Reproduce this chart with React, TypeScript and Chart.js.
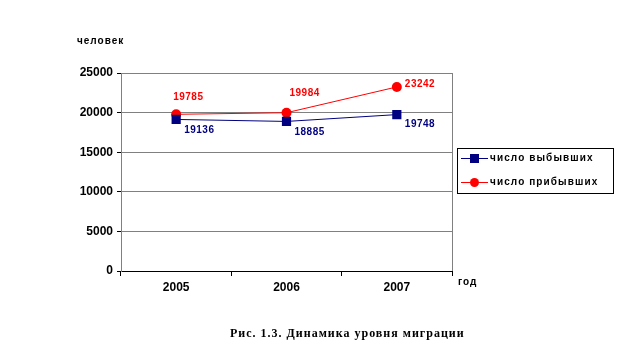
import React, { useEffect, useRef } from "react";
import { Chart, registerables } from "chart.js";

Chart.register(...registerables);

const years = ["2005", "2006", "2007"];
const departed = [19136, 18885, 19748];
const arrived = [19785, 19984, 23242];
const seriesNames = ["число выбывших", "число прибывших"];
const yTitle = "человек";
const xTitle = "год";
const caption = "Рис. 1.3. Динамика уровня миграции";

const BLUE = "#000080";
const RED = "#FF0000";
const FONT = '"Liberation Sans", Arial, sans-serif';

// label offsets relative to each point (style only)
const labelOffsets = [
  [
    [8, 11],
    [8, 11],
    [8, 10],
  ],
  [
    [-3, -17],
    [3, -19],
    [8, -3],
  ],
];

const extrasPlugin = {
  id: "extras",
  afterDatasetsDraw(chart: any) {
    const ctx = chart.ctx;
    ctx.save();
    ctx.font = `bold 10px ${FONT}`;
    (ctx as any).letterSpacing = "0.5px";
    ctx.textBaseline = "middle";
    ctx.textAlign = "left";
    chart.data.datasets.forEach((ds: any, di: number) => {
      const meta = chart.getDatasetMeta(di);
      ctx.fillStyle = ds.borderColor;
      meta.data.forEach((pt: any, i: number) => {
        const off = labelOffsets[di][i];
        ctx.fillText(String(ds.data[i]), pt.x + off[0], pt.y + off[1]);
      });
    });
    (ctx as any).letterSpacing = "0px";
    ctx.restore();
  },
  afterDraw(chart: any) {
    const ctx = chart.ctx;
    const area = chart.chartArea;
    ctx.save();
    // right border
    ctx.strokeStyle = "#808080";
    ctx.lineWidth = 1;
    ctx.beginPath();
    ctx.moveTo(Math.round(area.right) + 0.5, area.top);
    ctx.lineTo(Math.round(area.right) + 0.5, area.bottom);
    ctx.stroke();

    // axis titles
    ctx.fillStyle = "#000";
    ctx.font = `bold 10px ${FONT}`;
    (ctx as any).letterSpacing = "1px";
    ctx.textBaseline = "middle";
    ctx.textAlign = "left";
    ctx.fillText(yTitle, 77, 41);
    ctx.fillText(xTitle, 458, 282);

    // legend
    const lx = 457, ly = 148, lw = 156, lh = 45;
    ctx.fillStyle = "#fff";
    ctx.fillRect(lx, ly, lw, lh);
    ctx.strokeStyle = "#000";
    ctx.strokeRect(lx + 0.5, ly + 0.5, lw, lh);
    chart.data.datasets.forEach((ds: any, di: number) => {
      const y = ly + 10 + di * 24;
      ctx.strokeStyle = ds.borderColor;
      ctx.beginPath();
      ctx.moveTo(461, y + 0.5);
      ctx.lineTo(488, y + 0.5);
      ctx.stroke();
      ctx.fillStyle = ds.borderColor;
      if (ds.pointStyle === "rect") {
        ctx.fillRect(470, y - 4, 9, 9);
      } else {
        ctx.beginPath();
        ctx.arc(474.5, y + 0.5, 4.5, 0, Math.PI * 2);
        ctx.fill();
      }
      ctx.fillStyle = "#000";
      ctx.font = `bold 10px ${FONT}`;
      (ctx as any).letterSpacing = "1.1px";
      ctx.textAlign = "left";
      ctx.textBaseline = "middle";
      ctx.fillText(ds.label, 490, y);
    });

    // caption
    ctx.fillStyle = "#000";
    ctx.font = `bold 12px "Liberation Serif", "Times New Roman", serif`;
    (ctx as any).letterSpacing = "1px";
    ctx.textAlign = "left";
    ctx.textBaseline = "middle";
    ctx.fillText(caption, 230, 334);
    (ctx as any).letterSpacing = "0px";
    ctx.restore();
  },
};

export default function App() {
  const ref = useRef<HTMLCanvasElement>(null);
  useEffect(() => {
    if (!ref.current) return;
    const chart = new Chart(ref.current, {
      type: "line",
      data: {
        labels: years,
        datasets: [
          {
            label: seriesNames[0],
            data: departed,
            borderColor: BLUE,
            backgroundColor: BLUE,
            borderWidth: 1,
            pointStyle: "rect",
            pointRadius: 6.5,
            pointBorderWidth: 0,
            tension: 0,
          },
          {
            label: seriesNames[1],
            data: arrived,
            borderColor: RED,
            backgroundColor: RED,
            borderWidth: 1,
            pointStyle: "circle",
            pointRadius: 5,
            pointBorderWidth: 0,
            tension: 0,
          },
        ],
      },
      options: {
        responsive: false,
        animation: false,
        devicePixelRatio: 1,
        layout: { padding: { left: 0, top: 73, right: 184, bottom: 0 } },
        plugins: { legend: { display: false }, tooltip: { enabled: false } },
        scales: {
          x: {
            type: "category",
            offset: true,
            afterFit: (s: any) => {
              s.height = 89;
            },
            grid: {
              offset: true,
              drawOnChartArea: false,
              drawTicks: true,
              tickLength: 5,
              color: "#000",
            },
            border: { color: "#000", width: 1 },
            ticks: {
              color: "#000",
              font: { family: FONT, size: 12, weight: "bold" },
              padding: 4,
            },
          },
          y: {
            min: 0,
            max: 25000,
            afterFit: (s: any) => {
              s.width = 121;
            },
            grid: {
              color: (c: any) => (c.tick && c.tick.value === 0 ? "#000" : "#808080"),
              tickLength: 4,
              tickColor: "#000",
            },
            border: { color: "#808080", width: 1 },
            ticks: {
              stepSize: 5000,
              color: "#000",
              font: { family: FONT, size: 12, weight: "bold" },
              padding: 4,
              callback: (v: any) => String(v),
            },
          },
        },
      },
      plugins: [extrasPlugin],
    });
    return () => chart.destroy();
  }, []);
  return (
    <div style={{ position: "absolute", left: 0, top: 0, width: 636, height: 360, background: "#fff" }}>
      <canvas ref={ref} width={636} height={360} style={{ width: 636, height: 360 }} />
    </div>
  );
}
